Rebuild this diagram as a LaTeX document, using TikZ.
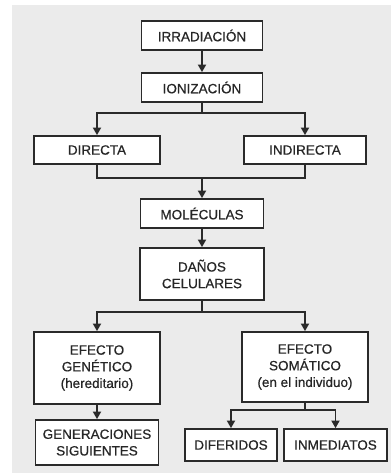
\documentclass[tikz,border=0pt]{standalone}
\usepackage{fontspec}
\setmainfont{Liberation Sans}
\newfontfamily\medio{Liberation Sans}[FakeBold=0.6]
\usetikzlibrary{arrows.meta}
\definecolor{fondo}{HTML}{EBEBEB}
\definecolor{borde}{HTML}{2A2A2A}
\tikzset{
  caja/.style={draw=borde, line width=1.5pt, fill=white, align=center, inner sep=0pt,
    text=black!85, font=\medio\fontsize{11.5}{14.2}\selectfont},
  flecha/.style={line width=1.2pt, draw=borde, -{Triangle[length=6.5pt,width=7pt]}},
  linea/.style={line width=1.2pt, draw=borde}
}
\begin{document}
\begin{tikzpicture}
\useasboundingbox (0,0) rectangle (11.73,-14.25);
\fill[fondo] (0.36,-0.15) rectangle (11.73,-14.19);
%
\node[caja, minimum width=3.63cm, minimum height=0.87cm] (irr) at (6.06,-1.065) {IRRADIACIÓN};
\node[caja, minimum width=3.63cm, minimum height=0.87cm] (ion) at (6.06,-2.625) {IONIZACIÓN};
\node[caja, minimum width=3.78cm, minimum height=0.84cm] (dir) at (2.91,-4.50) {DIRECTA};
\node[caja, minimum width=3.66cm, minimum height=0.84cm] (ind) at (9.15,-4.50) {INDIRECTA};
\node[caja, minimum width=3.69cm, minimum height=0.87cm] (mol) at (6.06,-6.405) {MOLÉCULAS};
\node[caja, minimum width=3.72cm, minimum height=1.56cm] (dan) at (6.06,-8.22) {DAÑOS\\CELULARES};
%
\node[caja, minimum width=3.78cm, minimum height=2.16cm] (gen) at (2.91,-11.04) {EFECTO\\GENÉTICO\\(hereditario)};
\node[caja, minimum width=3.78cm, minimum height=2.10cm] (som) at (9.15,-11.01) {EFECTO\\SOMÁTICO\\(en el individuo)};
\node[caja, minimum width=3.69cm, minimum height=1.35cm] (sig) at (2.91,-13.275) {GENERACIONES\\SIGUIENTES};
\node[caja, minimum width=2.76cm, minimum height=0.96cm] (dif) at (6.93,-13.35) {DIFERIDOS};
\node[caja, minimum width=3.09cm, minimum height=0.96cm] (inm) at (10.065,-13.35) {INMEDIATOS};
%
\coordinate (j1) at (6.06,-3.39);
\coordinate (m1) at (6.06,-5.34);
\coordinate (j2) at (6.06,-9.36);
\coordinate (j3) at (9.15,-12.30);
%
\draw[flecha] (irr) -- (ion);
\draw[linea] (ion) -- (j1);
\draw[flecha] (j1) -| (dir.north);
\draw[flecha] (j1) -| (ind.north);
\draw[linea] (dir.south) |- (m1) -| (ind.south);
\draw[flecha] (m1) -- (mol);
\draw[flecha] (mol) -- (dan);
\draw[linea] (dan) -- (j2);
\draw[flecha] (j2) -| (gen.north);
\draw[flecha] (j2) -| (som.north);
\draw[flecha] (gen) -- (sig);
\draw[linea] (som) -- (j3);
\draw[flecha] (j3) -| (dif.north);
\draw[flecha] (j3) -| (inm.north);
\end{tikzpicture}
\end{document}
